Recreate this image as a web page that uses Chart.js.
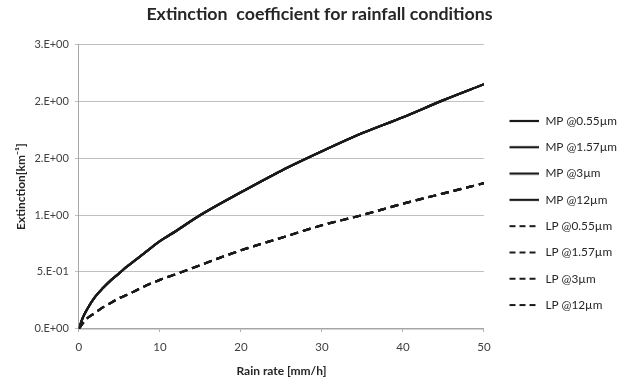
<!DOCTYPE html>
<html>
<head>
<meta charset="utf-8">
<script src="https://cdn.jsdelivr.net/npm/chart.js@4"></script>
<style>
  html, body { margin: 0; padding: 0; background: #fff; }
  #wrap { width: 625px; height: 385px; }
</style>
</head>
<body>
<div id="wrap"><canvas id="extChart"></canvas></div>
<script>
// rain rate [mm/h]
const rainRate = [0, 0.5, 1, 2, 3, 4, 5, 6, 8, 10, 12, 15, 20, 25, 30, 35, 40, 45, 50];

// extinction [km-1], Marshall-Palmer and Laws-Parsons drop size distributions
const mpExt = [0, 0.10, 0.17, 0.28, 0.36, 0.43, 0.49, 0.55, 0.66, 0.77, 0.86, 1.00, 1.20, 1.39, 1.56, 1.72, 1.86, 2.01, 2.15];
const lpExt = [0, 0.05, 0.09, 0.14, 0.19, 0.23, 0.27, 0.30, 0.37, 0.43, 0.48, 0.56, 0.69, 0.80, 0.91, 1.00, 1.10, 1.19, 1.28];

const wavelengths = ['0.55µm', '1.57µm', '3µm', '12µm'];
const xTicks = [0, 10, 20, 30, 40, 50];
const yTicks = [0, 0.5, 1, 1.5, 2, 2.5];

const FONT = 'Lato, "Open Sans", sans-serif';
const INK = '#1a1a1a';

// Excel style "0.E+00" labels
function sci(v) {
  if (v === 0) return '0.E+00';
  let e = Math.floor(Math.log10(v));
  let m = Math.round(v / Math.pow(10, e));
  if (m >= 10) { m = 1; e += 1; }
  const sign = e < 0 ? '-' : '+';
  return m + '.E' + sign + String(Math.abs(e)).padStart(2, '0');
}

// legend swatch: 11px blank lead-in, then a 30px line (solid or dashed)
function swatch(dash) {
  const c = document.createElement('canvas');
  c.width = 41;
  c.height = 4;
  const ctx = c.getContext('2d');
  ctx.strokeStyle = INK;
  ctx.lineWidth = 2.2;
  ctx.setLineDash(dash);
  ctx.beginPath();
  ctx.moveTo(11, 2);
  ctx.lineTo(41, 2);
  ctx.stroke();
  return c;
}

function series(model, vals, dash, legendDash) {
  const icon = swatch(legendDash);
  return wavelengths.map(w => ({
    label: model + ' @' + w,
    data: rainRate.map((r, i) => ({ x: r, y: vals[i] })),
    borderColor: INK,
    backgroundColor: INK,
    borderWidth: 2.2,
    borderDash: dash,
    pointRadius: 0,
    pointStyle: icon,
    cubicInterpolationMode: 'monotone',
    fill: false
  }));
}

const data = {
  datasets: series('MP', mpExt, [], []).concat(series('LP', lpExt, [8, 5], [6, 4]))
};

const config = {
  type: 'line',
  data,
  options: {
    responsive: true,
    maintainAspectRatio: false,
    animation: false,
    layout: {
      padding: { left: 12, right: -2, top: 0, bottom: 7 }
    },
    plugins: {
      title: {
        display: true,
        text: 'Extinction  coefficient for rainfall conditions',
        color: '#262626',
        font: { family: FONT, size: 17.8, weight: 'bold' },
        padding: { top: 4, bottom: 19 }
      },
      legend: {
        position: 'right',
        title: {
          display: true,
          text: '',
          font: { size: 10 },
          padding: { top: 36, bottom: 0 }
        },
        labels: {
          usePointStyle: true,
          pointStyleWidth: 41,
          color: '#262626',
          font: { family: FONT, size: 11.8 },
          padding: 14.5
        }
      },
      tooltip: { enabled: false }
    },
    scales: {
      x: {
        type: 'linear',
        min: 0,
        max: 50,
        afterBuildTicks: axis => { axis.ticks = xTicks.map(v => ({ value: v })); },
        ticks: {
          color: '#404040',
          font: { family: FONT, size: 11.5 },
          padding: 9,
          maxRotation: 0
        },
        grid: { drawOnChartArea: false, tickLength: 3, color: '#a6a6a6' },
        border: { color: '#a6a6a6', width: 1.5 },
        title: {
          display: true,
          text: 'Rain rate [mm/h]',
          color: '#262626',
          font: { family: FONT, size: 12, weight: 'bold' },
          padding: { top: 0, bottom: 0 }
        }
      },
      y: {
        min: 0,
        max: 2.5,
        afterBuildTicks: axis => { axis.ticks = yTicks.map(v => ({ value: v })); },
        ticks: {
          color: '#404040',
          font: { family: FONT, size: 11 },
          padding: 6
        },
        grid: { color: '#c0c0c0', tickLength: 4 },
        border: { color: '#a6a6a6' },
        title: {
          display: true,
          text: 'Extinction[km⁻¹]',
          color: '#262626',
          font: { family: FONT, size: 12, weight: 'bold' },
          padding: { top: 2, bottom: 0 }
        }
      }
    }
  }
};

// y tick text in Excel exponent form
config.options.scales.y.ticks.callback = v => sci(v);

const extChart = new Chart(document.getElementById('extChart'), config);
</script>
</body>
</html>
